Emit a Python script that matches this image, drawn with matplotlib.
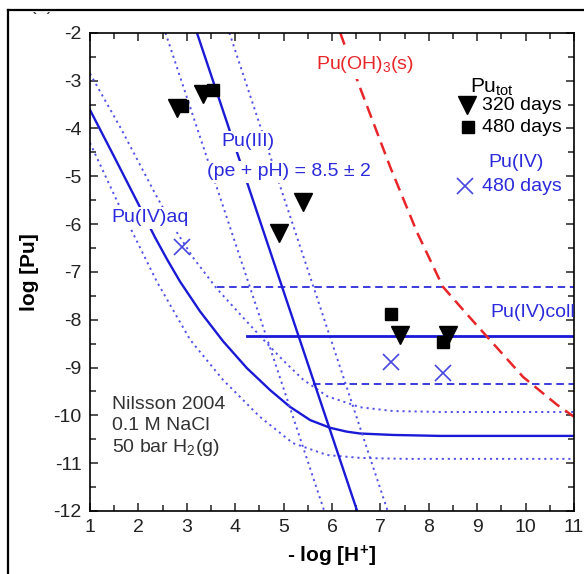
import matplotlib

matplotlib.use("Agg")

import matplotlib.pyplot as plt
from matplotlib.lines import Line2D
from matplotlib.transforms import Bbox

plt.rcParams["font.family"] = ["Liberation Sans", "DejaVu Sans"]
plt.rcParams["mathtext.default"] = "regular"
plt.rcParams["axes.unicode_minus"] = False

BLUE = "#1a1ad6"
BLUE_LIGHT = "#5252ea"
BLUE_TEXT = "#2b2bdb"
RED = "#e8262a"

# Pu(IV)aq solubility: central estimate and upper / lower bounds
aq_x = [1.0, 1.5, 1.99, 2.34, 2.6, 2.86, 3.27, 3.75, 4.24, 4.72, 5.13, 5.55, 5.96, 6.3, 6.58,
        7.26, 8.23, 11.0]
aq_y = [-3.61, -4.59, -5.56, -6.27, -6.75, -7.2, -7.82, -8.45, -9.01, -9.47, -9.82, -10.10,
        -10.26, -10.34, -10.38, -10.41, -10.43, -10.43]
aq_hi_x = [1.0, 1.64, 2.34, 2.75, 3.13, 3.62, 4.16, 4.66, 4.99, 5.40, 5.90, 6.58, 7.26, 8.3, 11.0]
aq_hi_y = [-2.85, -4.0, -5.35, -6.1, -6.7, -7.35, -7.95, -8.5, -8.85, -9.25, -9.6, -9.83, -9.91,
           -9.93, -9.93]
aq_lo_x = [1.0, 1.58, 1.99, 2.38, 3.07, 3.75, 4.51, 5.19, 5.90, 6.58, 7.5, 11.0]
aq_lo_y = [-4.3, -5.56, -6.4, -7.2, -8.42, -9.26, -10.03, -10.58, -10.83, -10.89, -10.91, -10.91]

# Pu(III) line for (pe + pH) = 8.5 +/- 2
pu3_x = [3.21, 6.52]
pu3_lo_x = [2.56, 5.84]
pu3_hi_x = [3.88, 7.15]
pu3_y = [-2.0, -12.0]

# Pu(IV) colloid level +/- 1
coll_x = [4.24, 11.0]
coll_y = [-8.34, -8.34]
coll_hi_x = [3.62, 11.0]
coll_hi_y = [-7.32, -7.32]
coll_lo_x = [5.61, 11.0]
coll_lo_y = [-9.34, -9.34]

# Pu(OH)3(s) solubility
oh3_x = [6.17, 6.58, 7.2, 7.76, 8.29, 8.8, 9.26, 9.95, 10.65, 11.0]
oh3_y = [-2.0, -3.15, -4.8, -6.18, -7.31, -7.9, -8.42, -9.2, -9.78, -10.03]

# measured Pu_tot and Pu(IV)
d320_x = [2.80, 3.33, 4.90, 5.40, 7.40, 8.40]
d320_y = [-3.57, -3.28, -6.18, -5.54, -8.32, -8.32]
d480_x = [2.90, 3.54, 7.22, 8.29]
d480_y = [-3.53, -3.19, -7.88, -8.46]
iv480_x = [2.90, 7.22, 8.29]
iv480_y = [-6.48, -8.88, -9.11]

fig = plt.figure(figsize=(5.84, 5.74), dpi=100)
ax = fig.add_axes([0.154, 0.1098, 0.829, 0.833])

dotted = dict(color=BLUE_LIGHT, lw=1.4, ls=(0, (1.1, 2.0)))
dashed = dict(color=BLUE, lw=1.2, ls=(0, (4.5, 2.8)))

ax.plot(aq_x, aq_y, color=BLUE, lw=1.7)
ax.plot(aq_hi_x, aq_hi_y, **dotted)
ax.plot(aq_lo_x, aq_lo_y, **dotted)

ax.plot(pu3_x, pu3_y, color=BLUE, lw=1.7)
ax.plot(pu3_lo_x, pu3_y, **dotted)
ax.plot(pu3_hi_x, pu3_y, **dotted)

ax.plot(coll_x, coll_y, color=BLUE, lw=2.0)
ax.plot(coll_hi_x, coll_hi_y, **dashed)
ax.plot(coll_lo_x, coll_lo_y, **dashed)

ax.plot(oh3_x, oh3_y, color=RED, lw=1.8, ls=(0, (5, 2.8)))

ax.plot(d320_x, d320_y, "v", color="black", ms=13.5, zorder=5)
ax.plot(d480_x, d480_y, "s", color="black", ms=8.5, zorder=5)
ax.plot(iv480_x, iv480_y, "x", color="#4646e0", ms=11, mew=1.2, zorder=5)

ax.set_xlim(1, 11)
ax.set_ylim(-12, -2)
ax.set_xticks(range(1, 12))
ax.set_yticks(range(-12, -1))
ax.set_xticks([x + 0.5 for x in range(1, 11)], minor=True)
ax.set_yticks([y + 0.5 for y in range(-12, -2)], minor=True)
ax.tick_params(which="both", direction="in", top=True, right=True, width=1.1,
               labelsize=14, colors="#222222")
ax.tick_params(which="major", length=6, pad=6)
ax.tick_params(which="minor", length=4)
for sp in ax.spines.values():
    sp.set_linewidth(1.2)

ax.set_xlabel("- log [H$^{{+}}$]", fontsize=15, fontweight="bold")
ax.set_ylabel("log [Pu]", fontsize=15, fontweight="bold")
ax.xaxis.set_label_coords(0.5, -0.068)
ax.yaxis.set_label_coords(-0.105, 0.5)

mask = dict(fc="white", ec="none", pad=1.5)
ax.text(2.24, -5.87, "Pu(IV)aq", color=BLUE_TEXT, fontsize=14, ha="center", va="center",
        bbox=mask, zorder=6)
ax.text(4.27, -4.28, "Pu(III)", color=BLUE_TEXT, fontsize=14, ha="center", va="center",
        bbox=mask, zorder=6)
ax.text(5.11, -4.91, "(pe + pH) = 8.5 ± 2", color=BLUE_TEXT, fontsize=14, ha="center",
        va="center", bbox=mask, zorder=6)
ax.text(6.68, -2.67, "Pu(OH)$_3$(s)", color=RED, fontsize=14, ha="center", va="center",
        bbox=dict(fc="white", ec="none", pad=3), zorder=6)
ax.text(11.02, -7.84, "Pu(IV)coll", color=BLUE_TEXT, fontsize=14, ha="right", va="center",
        zorder=6)
ax.text(0.045, 0.175, "Nilsson 2004\n0.1 M NaCl\n50 bar H$_2$(g)", transform=ax.transAxes,
        color="#333333", fontsize=14, ha="left", va="center", linespacing=1.25)

# key, upper right
ax.text(0.83, 0.885, "Pu$_{tot}$", transform=ax.transAxes, color="black", fontsize=15,
        ha="center", va="center")
ax.plot([0.778], [0.849], "v", color="black", ms=13.5, transform=ax.transAxes, clip_on=False)
ax.text(0.81, 0.849, "320 days", transform=ax.transAxes, fontsize=14, va="center")
ax.plot([0.780], [0.803], "s", color="black", ms=8.5, transform=ax.transAxes, clip_on=False)
ax.text(0.81, 0.803, "480 days", transform=ax.transAxes, fontsize=14, va="center")
ax.text(0.88, 0.728, "Pu(IV)", transform=ax.transAxes, color=BLUE_TEXT, fontsize=14,
        ha="center", va="center")
ax.plot([0.775], [0.679], "x", color="#4646e0", ms=11, mew=1.2, transform=ax.transAxes,
        clip_on=False)
ax.text(0.81, 0.679, "480 days", transform=ax.transAxes, color=BLUE_TEXT, fontsize=14,
        va="center")

# panel frame and its clipped label
W, H = 584, 574
fig.add_artist(Line2D([8 / W, 8 / W], [0, 1 - 10 / H], color="black", lw=1.6))
fig.add_artist(Line2D([8 / W, 1], [1 - 10 / H, 1 - 10 / H], color="black", lw=1.6))
lab = fig.text(30 / W, 1 - 9.5 / H, "(a)", fontsize=14, va="baseline", color="#333333")
lab.set_clip_box(Bbox([[0, 0], [W, H - 11.5]]))

fig.savefig("out.png", dpi=100)
